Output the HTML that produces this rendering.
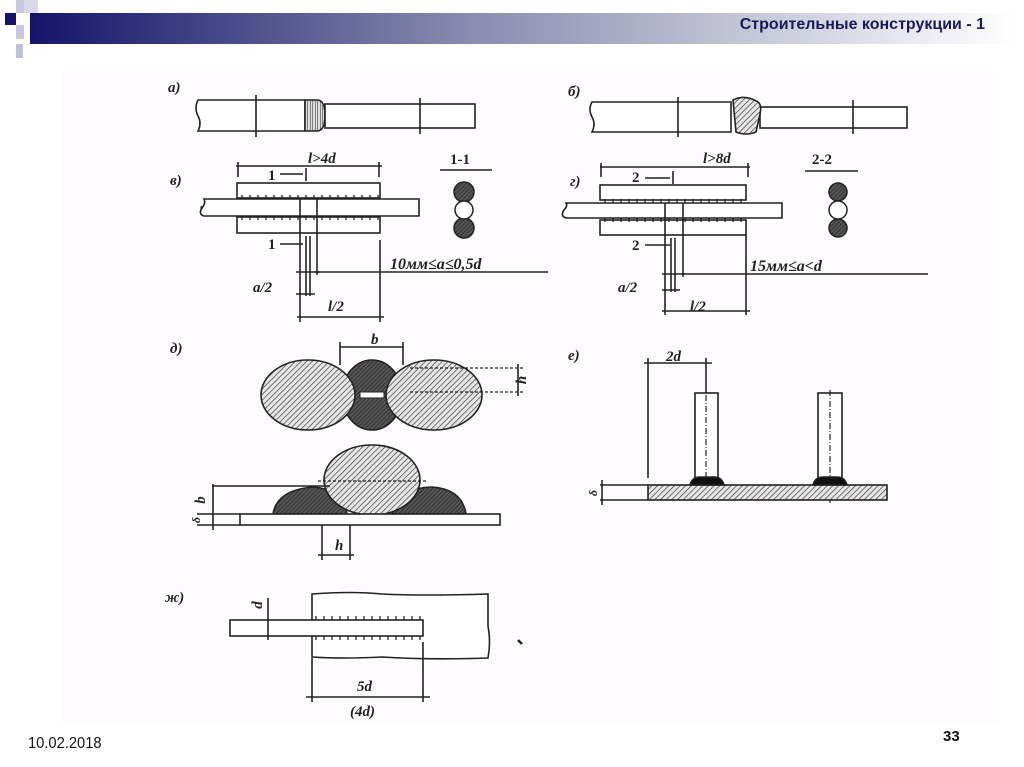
<!DOCTYPE html>
<html><head><meta charset="utf-8">
<style>
html,body{margin:0;padding:0;background:#fff;}
body{width:1024px;height:767px;overflow:hidden;position:relative;}
svg{position:absolute;left:0;top:0;}
</style></head><body>
<svg width="1024" height="767" viewBox="0 0 1024 767" xmlns="http://www.w3.org/2000/svg">
<defs>
<linearGradient id="g" x1="0" x2="1" y1="0" y2="0">
<stop offset="0" stop-color="#14146a"/><stop offset="0.45" stop-color="#8a8cb0"/><stop offset="1" stop-color="#ffffff"/>
</linearGradient>
<pattern id="h" width="4" height="4" patternUnits="userSpaceOnUse" patternTransform="rotate(45)">
<rect width="4" height="4" fill="#e6e6e6"/><line x1="0" y1="0" x2="0" y2="4" stroke="#333" stroke-width="1.3"/>
</pattern>
<pattern id="hd" width="3" height="3" patternUnits="userSpaceOnUse" patternTransform="rotate(45)">
<rect width="3" height="3" fill="#555"/><line x1="0" y1="0" x2="0" y2="3" stroke="#222" stroke-width="1.3"/>
</pattern>
<pattern id="hv" width="2.5" height="4" patternUnits="userSpaceOnUse">
<rect width="2.5" height="4" fill="#ddd"/><line x1="0" y1="0" x2="0" y2="4" stroke="#222" stroke-width="1"/>
</pattern>
</defs>
<!-- header -->
<rect x="30" y="13" width="985" height="31" fill="url(#g)"/>
<rect x="5" y="13" width="11" height="12" fill="#14146a"/>
<rect x="16" y="0" width="8" height="13" fill="#c8c8e0"/>
<rect x="24" y="0" width="14" height="13" fill="#d8d8ea"/>
<rect x="16" y="25" width="8" height="14" fill="#c8c8e0"/>
<rect x="16" y="44" width="7" height="14" fill="#c0c0da"/>
<text x="985" y="29" text-anchor="end" font-family="Liberation Sans, sans-serif" font-weight="bold" font-size="16" fill="#1a1a5a">Строительные конструкции - 1</text>
<!-- panel -->
<rect x="62" y="72" width="938" height="651" fill="#fdfbfd"/>
<g font-family="Liberation Serif, serif" font-style="italic" font-weight="bold" font-size="15" fill="#222" stroke="none">
<text x="168" y="92">а)</text><text x="568" y="96">б)</text>
<text x="170" y="185">в)</text><text x="570" y="186">г)</text>
<text x="170" y="353">д)</text><text x="568" y="360">е)</text>
<text x="165" y="602">ж)</text>
<text x="308" y="163">l&gt;4d</text><text x="703" y="163">l&gt;8d</text>
<text x="390" y="269" font-size="16">10мм≤a≤0,5d</text>
<text x="750" y="271" font-size="16">15мм≤a&lt;d</text>
<text x="253" y="292">a/2</text><text x="618" y="292">a/2</text>
<text x="328" y="311">l/2</text><text x="690" y="311">l/2</text>
<text x="371" y="344">b</text><text x="335" y="550">h</text>
<text x="666" y="361">2d</text>
<text x="357" y="691">5d</text><text x="350" y="716">(4d)</text>
<text font-style="normal" x="450" y="164">1-1</text><text font-style="normal" x="812" y="164">2-2</text>
<text font-style="normal" x="268" y="180">1</text><text font-style="normal" x="268" y="249">1</text>
<text font-style="normal" x="632" y="182">2</text><text font-style="normal" x="632" y="250">2</text>
<text transform="translate(249,118) rotate(-90)" text-anchor="middle">d<tspan font-size="9" dy="3">2</tspan></text>
<text transform="translate(414,118) rotate(-90)" text-anchor="middle">d<tspan font-size="9" dy="3">1</tspan></text>
<text transform="translate(675,118) rotate(-90)" text-anchor="middle">d<tspan font-size="9" dy="3">2</tspan></text>
<text transform="translate(848,118) rotate(-90)" text-anchor="middle">d<tspan font-size="9" dy="3">1</tspan></text>
<text transform="translate(211,210) rotate(-90)" text-anchor="middle">d</text>
<text transform="translate(577,212) rotate(-90)" text-anchor="middle">d</text>
<text transform="translate(526,380) rotate(-90)" text-anchor="middle">h</text>
<text transform="translate(205,500) rotate(-90)" text-anchor="middle">b</text>
<text transform="translate(200,520) rotate(-90)" text-anchor="middle" font-size="12">δ</text>
<text transform="translate(597,493) rotate(-90)" text-anchor="middle" font-size="12">δ</text>
<text transform="translate(262,605) rotate(-90)" text-anchor="middle">d</text>
</g>
<g fill="none" stroke="#222" stroke-width="1.6">
<!-- a -->
<path d="M198 100 H305 V131 H198 q4 -8 0 -15 q-4 -8 0 -16z" fill="#fff"/>
<path d="M305 100 h12 q8 0 8 15 q0 16 -8 16 h-12z" fill="url(#hv)"/>
<rect x="325" y="104" width="150" height="24" fill="#fff"/>
<line x1="256" y1="95" x2="256" y2="137"/><line x1="420" y1="98" x2="420" y2="134"/>
<!-- б -->
<path d="M592 102 H731 V132 H592 q4 -8 0 -15 q-4 -8 0 -15z" fill="#fff"/>
<rect x="760" y="107" width="147" height="21" fill="#fff"/>
<path d="M733 100 q12 -6 25 2 q4 3 2 12 l-4 18 q-10 4 -20 0z" fill="url(#h)"/>
<line x1="678" y1="97" x2="678" y2="137"/><line x1="853" y1="100" x2="853" y2="134"/>
<!-- в -->
<line x1="236" y1="166" x2="382" y2="166"/><line x1="238" y1="162" x2="238" y2="177"/><line x1="379" y1="162" x2="379" y2="177"/>
<line x1="280" y1="174" x2="303" y2="174"/><line x1="306" y1="168" x2="306" y2="181"/>
<rect x="237" y="183" width="143" height="15" fill="#fff"/>
<rect x="237" y="217" width="143" height="16" fill="#fff"/>
<path d="M204 199 H419 V216 H204 q-6 -2 -2 -8 q4 -5 2 -9z" fill="#fff"/>
<line x1="300" y1="199" x2="300" y2="322"/><line x1="317" y1="199" x2="317" y2="275"/>
<line x1="306" y1="236" x2="306" y2="296"/><line x1="310" y1="236" x2="310" y2="296"/>
<line x1="280" y1="244" x2="303" y2="244"/>
<line x1="380" y1="240" x2="380" y2="322"/>
<line x1="315" y1="272" x2="548" y2="272"/>
<line x1="296" y1="272" x2="320" y2="272"/><line x1="296" y1="294" x2="315" y2="294"/>
<line x1="297" y1="317" x2="384" y2="317"/>
<line x1="440" y1="170" x2="492" y2="170"/>
<!-- г -->
<line x1="600" y1="167" x2="750" y2="167"/><line x1="601" y1="163" x2="601" y2="177"/><line x1="748" y1="163" x2="748" y2="177"/>
<line x1="645" y1="178" x2="670" y2="178"/><line x1="673" y1="171" x2="673" y2="184"/>
<rect x="600" y="185" width="146" height="15" fill="#fff"/>
<rect x="600" y="220" width="146" height="15" fill="#fff"/>
<path d="M566 203 H782 V218 H566 q-6 -2 -2 -8 q4 -4 2 -7z" fill="#fff"/>
<line x1="665" y1="203" x2="665" y2="315"/><line x1="683" y1="203" x2="683" y2="277"/>
<line x1="671" y1="238" x2="671" y2="292"/><line x1="675" y1="238" x2="675" y2="292"/>
<line x1="645" y1="245" x2="670" y2="245"/>
<line x1="746" y1="235" x2="746" y2="315"/>
<line x1="683" y1="274" x2="928" y2="274"/>
<line x1="662" y1="274" x2="685" y2="274"/><line x1="662" y1="290" x2="680" y2="290"/>
<line x1="662" y1="311" x2="750" y2="311"/>
<line x1="805" y1="171" x2="858" y2="171"/>
<!-- д -->
<line x1="340" y1="347" x2="403" y2="347"/><line x1="340" y1="342" x2="340" y2="365"/><line x1="403" y1="342" x2="403" y2="365"/>
<ellipse cx="372" cy="395" rx="30" ry="35" fill="url(#hd)"/>
<ellipse cx="308" cy="395" rx="47" ry="35" fill="url(#h)"/>
<ellipse cx="434" cy="395" rx="48" ry="35" fill="url(#h)"/>
<rect x="360" y="392" width="24" height="6" fill="#fff" stroke-width="1"/>
<line x1="410" y1="368" x2="525" y2="368" stroke-dasharray="3 2" stroke-width="1.2"/>
<line x1="410" y1="392" x2="525" y2="392" stroke-dasharray="3 2" stroke-width="1.2"/>
<line x1="518" y1="364" x2="518" y2="396"/>
<path d="M273 514 q4 -24 40 -27 q30 2 34 27z" fill="url(#hd)"/>
<path d="M392 514 q6 -26 40 -27 q30 2 34 27z" fill="url(#hd)"/>
<ellipse cx="372" cy="480" rx="48" ry="35" fill="url(#h)"/>
<line x1="318" y1="481" x2="428" y2="481" stroke-dasharray="3 2" stroke-width="1.2"/>
<line x1="212" y1="486" x2="330" y2="486"/>
<rect x="240" y="514" width="260" height="11" fill="#fff"/>
<line x1="197" y1="514" x2="240" y2="514"/><line x1="197" y1="525" x2="240" y2="525"/>
<line x1="213" y1="484" x2="213" y2="530"/>
<line x1="322" y1="525" x2="322" y2="560"/><line x1="350" y1="525" x2="350" y2="560"/>
<line x1="318" y1="555" x2="354" y2="555"/>
<!-- е -->
<line x1="644" y1="363" x2="712" y2="363"/><line x1="648" y1="358" x2="648" y2="478"/><line x1="706" y1="358" x2="706" y2="393"/>
<rect x="695" y="393" width="23" height="85" fill="#fff"/>
<rect x="818" y="393" width="24" height="85" fill="#fff"/>
<line x1="706" y1="395" x2="706" y2="500" stroke-dasharray="6 2 1 2" stroke-width="1.2"/>
<line x1="830" y1="390" x2="830" y2="503" stroke-dasharray="6 2 1 2" stroke-width="1.2"/>
<rect x="648" y="485" width="239" height="15" fill="url(#h)"/>
<line x1="600" y1="485" x2="648" y2="485"/><line x1="600" y1="500" x2="648" y2="500"/>
<line x1="602" y1="480" x2="602" y2="505"/>
<path d="M690 485 q2 -8 10 -8 h14 q8 0 10 8z" fill="#111"/>
<path d="M813 485 q2 -8 10 -8 h14 q8 0 10 8z" fill="#111"/>
<!-- ж -->
<path d="M312 594 q40 -3 70 0 q40 2 106 0 v32 q3 16 0 32 q-60 2 -106 -1 q-40 2 -70 0z" fill="#fff"/>
<rect x="230" y="620" width="193" height="16" fill="#fff"/>
<line x1="268" y1="598" x2="268" y2="640"/>
<line x1="312" y1="658" x2="312" y2="702"/><line x1="423" y1="642" x2="423" y2="702"/>
<line x1="306" y1="697" x2="430" y2="697"/>
<path d="M518 640 l4 4" stroke-width="2.5"/>
</g>
<!-- weld stitches -->
<g stroke="#222" stroke-width="1.3">
<path d="M242 199v-4M250 199v-4M258 199v-4M266 199v-4M274 199v-4M282 199v-4M290 199v-4M298 199v-4M306 199v-4M314 199v-4M322 199v-4M330 199v-4M338 199v-4M346 199v-4M354 199v-4M362 199v-4M370 199v-4M378 199v-4"/>
<path d="M242 216v4M250 216v4M258 216v4M266 216v4M274 216v4M282 216v4M290 216v4M298 216v4M306 216v4M314 216v4M322 216v4M330 216v4M338 216v4M346 216v4M354 216v4M362 216v4M370 216v4M378 216v4"/>
<path d="M605 203v-4M613 203v-4M621 203v-4M629 203v-4M637 203v-4M645 203v-4M653 203v-4M661 203v-4M669 203v-4M677 203v-4M685 203v-4M693 203v-4M701 203v-4M709 203v-4M717 203v-4M725 203v-4M733 203v-4M741 203v-4"/>
<path d="M605 218v4M613 218v4M621 218v4M629 218v4M637 218v4M645 218v4M653 218v4M661 218v4M669 218v4M677 218v4M685 218v4M693 218v4M701 218v4M709 218v4M717 218v4M725 218v4M733 218v4M741 218v4"/>
<path d="M316 620v-4M324 620v-4M332 620v-4M340 620v-4M348 620v-4M356 620v-4M364 620v-4M372 620v-4M380 620v-4M388 620v-4M396 620v-4M404 620v-4M412 620v-4M420 620v-4"/>
<path d="M316 636v4M324 636v4M332 636v4M340 636v4M348 636v4M356 636v4M364 636v4M372 636v4M380 636v4M388 636v4M396 636v4M404 636v4M412 636v4M420 636v4"/>
</g>
<!-- sections -->
<g stroke="#222" stroke-width="1.5">
<circle cx="464" cy="192" r="10" fill="url(#hd)"/><circle cx="464" cy="228" r="10" fill="url(#hd)"/><circle cx="464" cy="210" r="9" fill="#fff"/>
<circle cx="838" cy="192" r="9" fill="url(#hd)"/><circle cx="838" cy="228" r="9" fill="url(#hd)"/><circle cx="838" cy="210" r="9" fill="#fff"/>
</g>
<text x="28" y="748" font-family="Liberation Sans Narrow, Liberation Sans, sans-serif" font-size="16" fill="#111" transform="translate(28,0) scale(0.92,1) translate(-28,0)">10.02.2018</text>
<text x="943" y="741" font-family="Liberation Sans, sans-serif" font-weight="bold" font-size="15" fill="#111">33</text>
</svg>
</body></html>
